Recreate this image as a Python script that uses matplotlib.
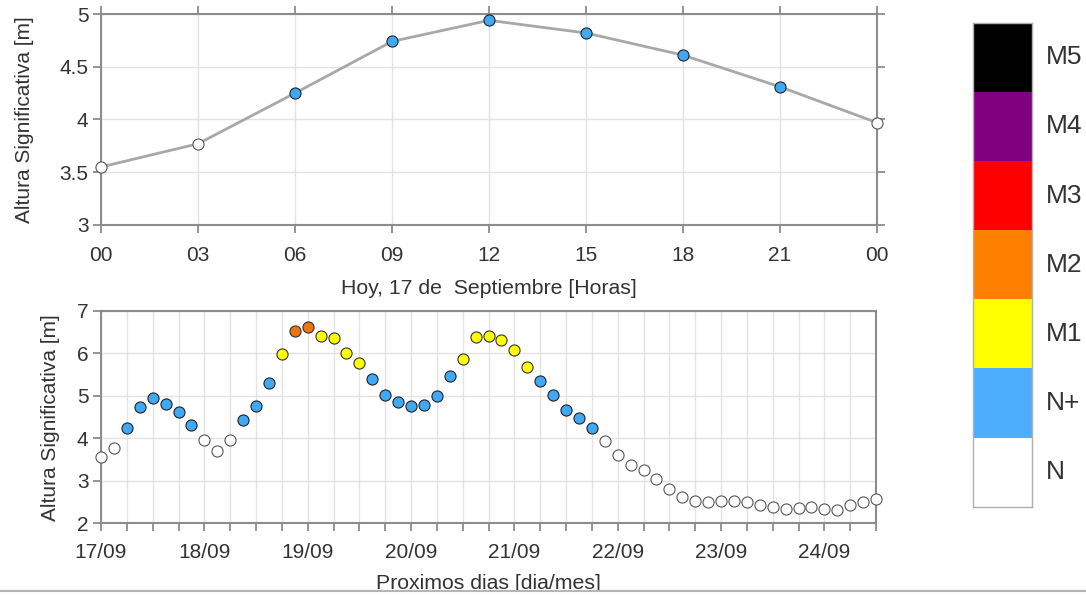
import numpy as np
import matplotlib
matplotlib.use("Agg")
import matplotlib.pyplot as plt
from matplotlib.lines import Line2D
from matplotlib.patches import Rectangle

plt.rcParams['font.family'] = ['Liberation Sans', 'DejaVu Sans']
plt.rcParams['font.size'] = 15
TXT = '#333333'

# ---------------- data ----------------
today_hours = [0, 3, 6, 9, 12, 15, 18, 21, 24]
today_labels = ['00', '03', '06', '09', '12', '15', '18', '21', '00']
today_values = [3.55, 3.77, 4.25, 4.74, 4.94, 4.82, 4.61, 4.31, 3.97]
today_levels = ['N', 'N', 'N+', 'N+', 'N+', 'N+', 'N+', 'N+', 'N']

forecast_values = [3.55, 3.77, 4.25, 4.74, 4.94, 4.82, 4.61, 4.31, 3.97, 3.70,
                   3.97, 4.44, 4.77, 5.30, 5.99, 6.53, 6.63, 6.40, 6.36, 6.02,
                   5.77, 5.40, 5.03, 4.85, 4.76, 4.78, 4.99, 5.47, 5.88, 6.39,
                   6.40, 6.32, 6.07, 5.68, 5.35, 5.02, 4.66, 4.49, 4.25, 3.94,
                   3.60, 3.38, 3.25, 3.05, 2.81, 2.63, 2.52, 2.49, 2.52, 2.52,
                   2.49, 2.43, 2.38, 2.33, 2.36, 2.38, 2.33, 2.31, 2.44, 2.49,
                   2.57]
forecast_levels = (['N'] * 2 + ['N+'] * 6 + ['N'] * 3 + ['N+'] * 3 + ['M1'] +
                   ['M2'] * 2 + ['M1'] * 4 + ['N+'] * 7 + ['M1'] * 6 +
                   ['N+'] * 5 + ['N'] * 22)
forecast_step_h = 3
day_labels = ['17/09', '18/09', '19/09', '20/09', '21/09', '22/09', '23/09', '24/09']

legend_levels = ['N', 'N+', 'M1', 'M2', 'M3', 'M4', 'M5']
legend_colors = ['#ffffff', '#4caefc', '#ffff00', '#ff8000', '#ff0000', '#800080', '#000000']
marker_colors = {'N': '#ffffff', 'N+': '#3fa9f5', 'M1': '#ffff00', 'M2': '#f07312',
                 'M3': '#ff0000', 'M4': '#800080', 'M5': '#000000'}
edge_colors = {'N': '#555555', 'N+': '#222222', 'M1': '#333333', 'M2': '#333333',
               'M3': '#333333', 'M4': '#333333', 'M5': '#333333'}

# ---------------- figure ----------------
W, H = 1086, 596
fig = plt.figure(figsize=(W / 100, H / 100), dpi=100)
fig.patch.set_facecolor('white')

def fx(px):
    return px / W

def fy(py):
    return 1 - py / H

SPINE = '#8c8c8c'
GRID = '#e3e3e3'

def style_axes(ax, all_sides, xpad):
    for s in ax.spines.values():
        s.set_color(SPINE)
        s.set_linewidth(1.5)
    ax.grid(True, color=GRID, linewidth=1.0)
    ax.set_axisbelow(True)
    ax.tick_params(direction='out', length=6, width=1.3, color=SPINE,
                   labelcolor=TXT, labelsize=15,
                   top=all_sides, right=all_sides)
    ax.tick_params(axis='x', pad=xpad)
    ax.tick_params(axis='y', pad=3)

# top axes
ax1 = fig.add_axes([fx(101), fy(225), fx(877 - 101), (225 - 14) / H])
ax1.plot(today_hours, today_values, color='#a8a8a8', linewidth=2, zorder=2)
for h, v, lev in zip(today_hours, today_values, today_levels):
    ax1.plot(h, v, 'o', ms=8, mfc=marker_colors[lev], mec=edge_colors[lev],
             mew=0.8, zorder=3, clip_on=False)
ax1.set_xlim(0, 24)
ax1.set_ylim(3, 5)
ax1.set_xticks(today_hours)
ax1.set_xticklabels(today_labels)
ax1.set_yticks([3, 3.5, 4, 4.5, 5])
ax1.set_yticklabels(['3', '3.5', '4', '4.5', '5'])
style_axes(ax1, True, 9)
ax1.set_xlabel('Hoy, 17 de  Septiembre [Horas]', color=TXT, fontsize=15.3, labelpad=10)
ax1.set_ylabel('Altura Significativa [m]', color=TXT, fontsize=15)
ax1.yaxis.set_label_coords(-0.086, 0.5)

# bottom axes
ax2 = fig.add_axes([fx(101), fy(523.3), fx(876 - 101), (523.3 - 311) / H])
t = np.arange(len(forecast_values)) * forecast_step_h
for x, v, lev in zip(t, forecast_values, forecast_levels):
    ax2.plot(x, v, 'o', ms=8, mfc=marker_colors[lev], mec=edge_colors[lev],
             mew=0.8, zorder=3, clip_on=False)
ax2.set_xlim(0, t[-1])
ax2.set_ylim(2, 7)
six = np.arange(0, t[-1] + 1, 6)
ax2.set_xticks(six)
ax2.set_xticklabels([day_labels[int(h // 24)] if h % 24 == 0 else '' for h in six])
ax2.set_yticks([2, 3, 4, 5, 6, 7])
style_axes(ax2, False, 8)
ax2.set_xlabel('Proximos dias [dia/mes]', color=TXT, fontsize=15.3, labelpad=9)
ax2.set_ylabel('Altura Significativa [m]', color=TXT, fontsize=15)
ax2.yaxis.set_label_coords(-0.053, 0.5)

# legend colour box
ax3 = fig.add_axes([fx(973), fy(506.7), fx(1032 - 973), (506.7 - 22.7) / H])
ax3.bar([0] * len(legend_levels), [1] * len(legend_levels),
        bottom=np.arange(len(legend_levels)), width=1, color=legend_colors,
        linewidth=0)
ax3.set_xlim(-0.5, 0.5)
ax3.set_ylim(0, len(legend_levels))
ax3.set_xticks([])
ax3.set_yticks([])
for s in ax3.spines.values():
    s.set_color('#b0b0b0')
    s.set_linewidth(1.0)
for i, lab in enumerate(legend_levels):
    ax3.text(1.23, (i + 0.5) / len(legend_levels), lab, transform=ax3.transAxes,
             ha='left', va='center', fontsize=19, color=TXT)

# bottom cut line
fig.add_artist(Rectangle((0, 0), 1, fy(591.5), transform=fig.transFigure,
                         facecolor='white', edgecolor='none', zorder=10))
fig.add_artist(Line2D([0, 1], [fy(591), fy(591)], transform=fig.transFigure,
                      color='#b5b5b5', linewidth=1.5, zorder=11))

fig.savefig('out.png', dpi=100, facecolor='white')
